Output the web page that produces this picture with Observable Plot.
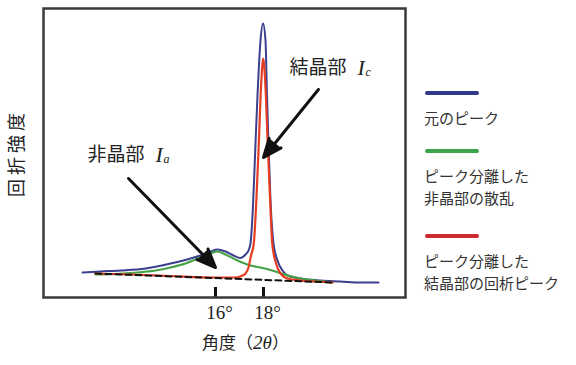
<!DOCTYPE html>
<html><head><meta charset="utf-8">
<script src="https://cdn.jsdelivr.net/npm/d3@7"></script>
<script src="https://cdn.jsdelivr.net/npm/@observablehq/plot@0.6"></script>
<style>
body{margin:0;background:#fff;}
#wrap{position:relative;width:576px;height:365px;background:#fff;}
.leg-line{position:absolute;height:4px;border-radius:2px;}
.leg-text{position:absolute;font-family:"Noto Sans CJK JP";font-size:15px;line-height:22px;color:#333;white-space:nowrap;}
</style></head><body><div id="wrap"></div>
<script>
// ---- data (2θ in degrees, intensity in arbitrary units) ----
const xDomain = [8.833, 23.917];
const yDomain = [0, 289];
const tickValues = [16, 18];

const originalX = [10.458, 11.208, 12.042, 13.083, 14.125, 14.958, 15.375, 15.792, 16.083, 16.417, 16.75, 17.042, 17.25, 17.375, 17.458, 17.563, 17.667, 17.75, 17.875, 17.979, 18.083, 18.146, 18.208, 18.292, 18.417, 18.583, 18.792, 19.0, 19.542, 20.375, 21.208, 22.042, 22.792];
const originalY = [25, 26, 27, 29, 34, 39, 42, 46, 48, 46, 42, 39.5, 43, 47, 54, 92, 154, 202, 257, 274, 257, 202, 154, 97, 54, 37, 27, 22, 19, 17, 16, 15, 15];

const amorphousX = [11.0, 11.833, 12.75, 13.5, 14.125, 14.75, 15.375, 15.792, 16.083, 16.417, 16.917, 17.458, 17.875, 18.5, 19.0, 19.542, 20.167, 20.875];
const amorphousY = [23, 23.5, 25, 27, 30, 34, 40, 44, 46, 43, 37, 32, 30, 26, 22, 19, 17, 15];

const crystalX = [11.0, 12.458, 14.125, 16.0, 16.833, 17.125, 17.25, 17.375, 17.479, 17.596, 17.708, 17.804, 17.896, 17.988, 18.083, 18.175, 18.271, 18.363, 18.5, 18.708, 19.0, 19.542, 20.167, 20.875];
const crystalY = [24, 23, 21.5, 20, 20, 22, 24, 30, 42, 54, 100, 154, 210, 239, 210, 154, 100, 54, 36, 24, 19, 17, 16, 15];

const baselineX = [11.0, 20.875];
const baselineY = [24, 15];

// annotations
const labelTexts = ["非晶部", "結晶部"];
const labelX = [10.667, 19.083];
const labelY = [142.5, 229.5];
const labelSubs = ["a", "c"];
const arrowX1 = [12.375, 20.29];
const arrowY1 = [119, 208];
const arrowX2 = [16.0, 18.0];
const arrowY2 = [30, 140];

const xTitle = "角度（2θ）";
const yTitle = "回折強度";

const legendLabels = [["元のピーク"], ["ピーク分離した", "非晶部の散乱"], ["ピーク分離した", "結晶部の回析ピーク"]];

// ---- styles ----
const BLUE = "#3a3f8e", GREEN = "#45a246", RED = "#e63c22";
const legendColors = ["#2f3a8a", "#3ba34a", "#cc2a2e"];
const CJK = "'Noto Sans CJK JP', sans-serif";
const SERIF = "'Liberation Serif', 'DejaVu Serif', serif";

const W = 576, H = 365, mL = 43, mR = 171, mT = 8, mB = 68;
const plotH = H - mT - mB;
const tickLen = 10 * (yDomain[1] - yDomain[0]) / plotH;

const chart = Plot.plot({
  width: W, height: H,
  marginLeft: mL, marginRight: mR, marginTop: mT, marginBottom: mB,
  x: {domain: xDomain, axis: null},
  y: {domain: yDomain, axis: null},
  style: {background: "#fff", color: "#222", fontFamily: SERIF, overflow: "visible"},
  marks: [
    Plot.line(originalX, {x: originalX, y: originalY, stroke: BLUE, strokeWidth: 2, curve: "monotone-x"}),
    Plot.line(amorphousX, {x: amorphousX, y: amorphousY, stroke: GREEN, strokeWidth: 2.2, curve: "monotone-x"}),
    Plot.line(crystalX, {x: crystalX, y: crystalY, stroke: RED, strokeWidth: 2.2, curve: "monotone-x"}),
    Plot.line(baselineX, {x: baselineX, y: baselineY, stroke: "#111", strokeWidth: 2, strokeDasharray: "6,4"}),
    Plot.ruleX(tickValues, {y1: yDomain[0], y2: yDomain[0] + tickLen, stroke: "#111", strokeWidth: 3}),
    Plot.axisX(tickValues, {tickSize: 0, tickPadding: 8, tickFormat: d => `${d}°`, fontSize: 19, fontFamily: SERIF, dx: 4, label: null, fill: "#222"}),
    Plot.frame({stroke: "#3a3a3a", strokeWidth: 2.5}),
    Plot.arrow(arrowX1, {x1: arrowX1, y1: arrowY1, x2: arrowX2, y2: arrowY2, stroke: "#111", fill: "#111", strokeWidth: 3, strokeLinejoin: "miter", headLength: 10, headAngle: 45}),
    Plot.text(labelTexts, {x: labelX, y: labelY, text: d => d, textAnchor: "start", fontSize: 19, fontFamily: CJK, fill: "#222"}),
    Plot.text(labelTexts, {x: labelX, y: labelY, text: () => "I", textAnchor: "start", dx: 68, fontSize: 22, fontStyle: "italic", fontFamily: SERIF, fill: "#222"}),
    Plot.text(labelSubs, {x: labelX, y: labelY, text: d => d, textAnchor: "start", dx: 76, dy: 4, fontSize: 12, fontStyle: "italic", fontFamily: SERIF, fill: "#222"}),
    Plot.text([xTitle], {frameAnchor: "bottom-left", text: d => d, textAnchor: "middle", dx: 202, dy: 51.5, fontSize: 17, fontFamily: CJK, fill: "#222"}),
    Plot.text([yTitle], {frameAnchor: "left", text: d => d, textAnchor: "middle", dx: -26.5, dy: 0, rotate: -90, fontSize: 18, fontFamily: CJK, fill: "#222"})
  ]
});

// rich text: italic "2θ" in the x title, letter spacing on the y title
d3.select(chart).selectAll("text").each(function() {
  const t = d3.select(this);
  const s = this.textContent;
  if (s === xTitle) {
    t.text(null);
    t.append("tspan").text("角度（");
    t.append("tspan").attr("font-style", "italic").attr("font-family", SERIF).attr("font-size", 19).text("2θ");
    t.append("tspan").text("）");
  } else if (s === yTitle) {
    t.style("letter-spacing", "4px");
  }
});

const wrap = document.getElementById("wrap");
wrap.appendChild(chart);

// legend (HTML, right of the plot frame)
const legLeft = 425, legWidth = 54, legTops = [91, 149, 234], textOffset = 17;
legendLabels.forEach((lines, i) => {
  const ln = document.createElement("div");
  ln.className = "leg-line";
  ln.style.left = legLeft + "px";
  ln.style.top = legTops[i] + "px";
  ln.style.width = legWidth + "px";
  ln.style.background = legendColors[i];
  wrap.appendChild(ln);
  const tx = document.createElement("div");
  tx.className = "leg-text";
  tx.style.left = (legLeft - 1) + "px";
  tx.style.top = (legTops[i] + textOffset - 1) + "px";
  lines.forEach((s, j) => {
    if (j > 0) tx.appendChild(document.createElement("br"));
    tx.appendChild(document.createTextNode(s));
  });
  wrap.appendChild(tx);
});
</script></body></html>
